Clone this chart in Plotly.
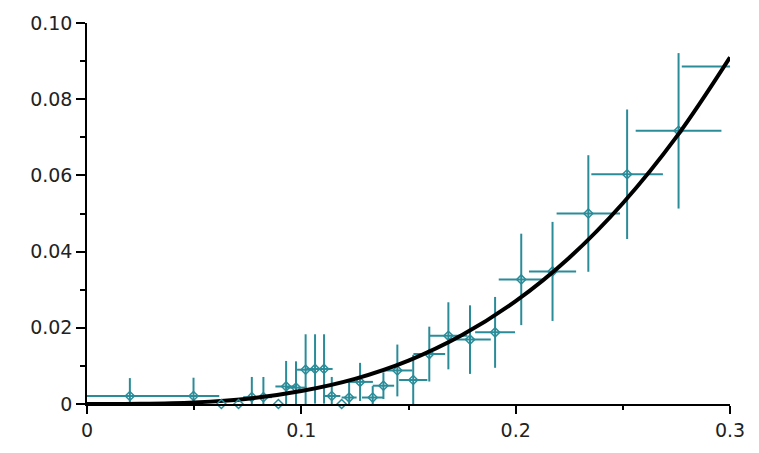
import plotly.graph_objects as go

# measured data points (x, y, horizontal error, vertical error)
x_vals = [0.020, 0.0497, 0.0769, 0.0823, 0.0929, 0.0975, 0.1020, 0.1064, 0.1106,
          0.1142, 0.1223, 0.1274, 0.1333, 0.1383, 0.1448, 0.1522, 0.1597, 0.1686,
          0.1787, 0.1904, 0.2026, 0.2172, 0.2339, 0.2520, 0.2760]
y_vals = [0.0021, 0.0021, 0.0018, 0.0018, 0.0046, 0.0043, 0.0090, 0.0092, 0.0092,
          0.0021, 0.0017, 0.0058, 0.0017, 0.0048, 0.0088, 0.0063, 0.0131, 0.0179,
          0.0169, 0.0188, 0.0327, 0.0348, 0.0500, 0.0603, 0.0717]
x_err = [0.020, 0.012, 0.004, 0.004, 0.005, 0.005, 0.004, 0.004, 0.004,
         0.004, 0.0035, 0.006, 0.005, 0.005, 0.007, 0.0066, 0.0074, 0.0089,
         0.0097, 0.0093, 0.0105, 0.011, 0.0148, 0.0167, 0.020]
y_err = [0.0047, 0.0048, 0.0053, 0.0053, 0.0067, 0.0069, 0.0093, 0.0091, 0.0091,
         0.0050, 0.0046, 0.0050, 0.0030, 0.0035, 0.0068, 0.0066, 0.0072, 0.0088,
         0.0090, 0.0093, 0.0120, 0.0130, 0.0153, 0.0170, 0.0204]

# last bin: horizontal bar only
last_x = [0.2895]
last_y = [0.0886]
last_xerr = [0.012]

# points at zero (markers sitting on the axis)
zero_x = [0.0627, 0.0707, 0.0893, 0.1188]
zero_y = [0, 0, 0, 0]

# fitted curve
curve_x = [0, 0.025, 0.05, 0.075, 0.1, 0.125, 0.15, 0.175, 0.2, 0.225, 0.25, 0.275, 0.3]
curve_y = [0, 0.00005, 0.00042, 0.0014, 0.0034, 0.0066, 0.0114, 0.0181, 0.027,
           0.0384, 0.0527, 0.0701, 0.091]

x_tickvals = [0, 0.1, 0.2, 0.3]
x_ticktext = ["0", "0.1", "0.2", "0.3"]
y_tickvals = [0, 0.02, 0.04, 0.06, 0.08, 0.10]
y_ticktext = ["0", "0.02", "0.04", "0.06", "0.08", "0.10"]

TEAL = "#2a8c99"

fig = go.Figure()

fig.add_trace(go.Scatter(
    x=x_vals, y=y_vals, mode="markers",
    marker=dict(symbol="diamond-open", size=7, color=TEAL, line=dict(width=1.5, color=TEAL)),
    error_x=dict(type="data", array=x_err, color=TEAL, thickness=2, width=0),
    error_y=dict(type="data", array=y_err, color=TEAL, thickness=2, width=0),
    showlegend=False,
))

fig.add_trace(go.Scatter(
    x=last_x, y=last_y, mode="markers",
    marker=dict(size=1, color="rgba(0,0,0,0)"),
    error_x=dict(type="data", array=last_xerr, color=TEAL, thickness=2, width=0),
    showlegend=False,
))

fig.add_trace(go.Scatter(
    x=curve_x, y=curve_y, mode="lines", line=dict(color="black", width=4, shape="spline"),
    showlegend=False,
))

fig.add_trace(go.Scatter(
    x=zero_x, y=zero_y, mode="markers", cliponaxis=False,
    marker=dict(symbol="diamond-open", size=7, color=TEAL, line=dict(width=1.5, color=TEAL)),
    showlegend=False,
))

axis_font = dict(family="DejaVu Sans", size=19, color="#222222")

fig.update_layout(
    width=759, height=453,
    margin=dict(l=87, r=29, t=15, b=38),
    paper_bgcolor="white", plot_bgcolor="white",
    xaxis=dict(
        range=[0, 0.3], showgrid=False, zeroline=False,
        showline=True, linecolor="black", linewidth=1.5,
        ticks="outside", ticklen=8, tickwidth=1.5, tickcolor="black",
        tickvals=x_tickvals, ticktext=x_ticktext, tickfont=axis_font,
        minor=dict(tickvals=[0.05, 0.15, 0.25], ticks="outside", ticklen=4,
                   tickwidth=1.5, tickcolor="black", showgrid=False),
    ),
    yaxis=dict(
        range=[0, 0.1], showgrid=False, zeroline=False,
        showline=True, linecolor="black", linewidth=1.5,
        ticks="outside", ticklen=9, tickwidth=1.5, tickcolor="black",
        tickvals=y_tickvals, ticktext=y_ticktext, tickfont=axis_font,
        minor=dict(tickvals=[0.01, 0.03, 0.05, 0.07, 0.09], ticks="outside", ticklen=5,
                   tickwidth=1.5, tickcolor="black", showgrid=False),
    ),
)

fig.write_html("out.html")
